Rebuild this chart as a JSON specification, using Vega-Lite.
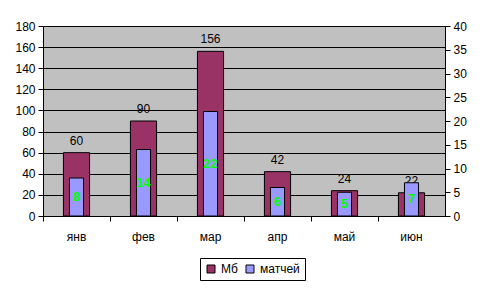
{
  "$schema": "https://vega.github.io/schema/vega-lite/v6.json",
  "width": 402,
  "height": 190,
  "padding": {"left": 14, "top": 20, "right": 5, "bottom": 5},
  "autosize": {"type": "pad"},
  "background": "white",
  "data": {"values": [
    {"month": "янв", "mb": 60, "matches": 8},
    {"month": "фев", "mb": 90, "matches": 14},
    {"month": "мар", "mb": 156, "matches": 22},
    {"month": "апр", "mb": 42, "matches": 6},
    {"month": "май", "mb": 24, "matches": 5},
    {"month": "июн", "mb": 22, "matches": 7}
  ]},
  "encoding": {
    "x": {"field": "month", "type": "nominal", "sort": null,
      "scale": {"paddingInner": 0, "paddingOuter": 0},
      "axis": {"title": null, "labelAngle": 0, "bandPosition": 0, "tickSize": 5, "labelPadding": 10, "grid": false}}
  },
  "layer": [
    {
      "mark": {"type": "bar", "width": {"band": 0.39}, "stroke": "black", "strokeWidth": 1},
      "encoding": {
        "y": {"field": "mb", "type": "quantitative", "scale": {"domain": [0, 180], "nice": false},
          "axis": {"title": null, "orient": "left", "values": [0, 20, 40, 60, 80, 100, 120, 140, 160, 180], "grid": true, "gridColor": "black", "gridOpacity": 1}},
        "color": {"datum": "Мб", "type": "nominal", "scale": {"domain": ["Мб", "матчей"], "range": ["#993366", "#9999FF"]},
          "legend": {"title": null, "orient": "none", "legendX": 157, "legendY": 232}}
      }
    },
    {
      "mark": {"type": "text", "baseline": "bottom", "dy": -5, "fontSize": 12, "color": "black"},
      "encoding": {
        "y": {"field": "mb", "type": "quantitative", "scale": {"domain": [0, 180], "nice": false}, "axis": null},
        "text": {"field": "mb", "type": "quantitative"}
      }
    },
    {
      "mark": {"type": "bar", "width": {"band": 0.21}, "stroke": "black", "strokeWidth": 1},
      "encoding": {
        "y": {"field": "matches", "type": "quantitative", "scale": {"domain": [0, 40], "nice": false},
          "axis": {"title": null, "orient": "right", "values": [0, 5, 10, 15, 20, 25, 30, 35, 40], "grid": false}},
        "color": {"datum": "матчей", "type": "nominal"}
      }
    },
    {
      "mark": {"type": "text", "baseline": "middle", "fontSize": 13, "fontWeight": "bold", "color": "#00FF00"},
      "encoding": {
        "y": {"field": "matches", "type": "quantitative", "scale": {"domain": [0, 80], "nice": false}, "axis": null},
        "text": {"field": "matches", "type": "quantitative"}
      }
    }
  ],
  "resolve": {"scale": {"y": "independent"}},
  "config": {
    "font": "Liberation Sans",
    "view": {"fill": "#C0C0C0", "stroke": "#808080"},
    "axis": {"domainColor": "black", "tickColor": "black", "labelColor": "black", "labelFontSize": 12, "labelFont": "Liberation Sans", "tickSize": 5, "labelPadding": 3},
    "legend": {"direction": "horizontal", "strokeColor": "black", "fillColor": "white", "padding": 5,
      "symbolType": "square", "symbolSize": 64, "symbolStrokeColor": "black", "symbolStrokeWidth": 1, "symbolOpacity": 1,
      "labelFontSize": 12, "labelColor": "black", "labelFont": "Liberation Sans", "columnPadding": 6}
  }
}
